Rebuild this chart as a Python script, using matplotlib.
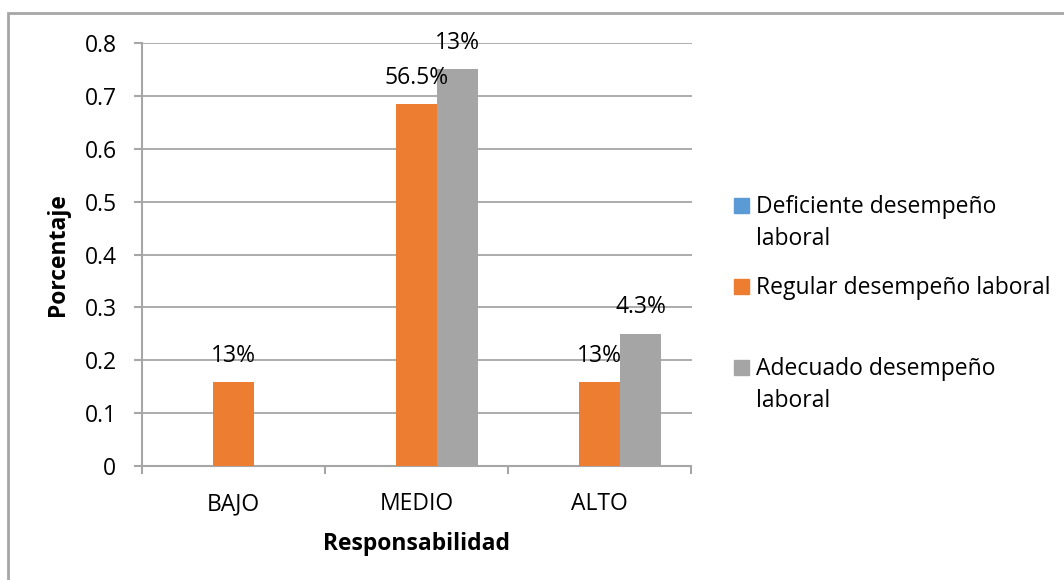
import matplotlib.pyplot as plt
import numpy as np
from matplotlib.patches import Rectangle

# Responsabilidad vs desempeño laboral
categories = ["BAJO", "MEDIO", "ALTO"]
series_names = ["Deficiente desempeño\nlaboral", "Regular desempeño laboral",
                "Adecuado desempeño\nlaboral"]
deficiente = [0.0, 0.0, 0.0]
regular = [0.158, 0.684, 0.158]
adecuado = [0.0, 0.75, 0.25]
# text shown above each bar (None = no label)
regular_labels = ["13%", "56.5%", "13%"]
adecuado_labels = [None, "13%", "4.3%"]

colors = ["#5B9BD5", "#ED7D31", "#A5A5A5"]
grid_gray = "#A6A6A6"
fs = 16.5

plt.rcParams["font.family"] = ["Open Sans", "DejaVu Sans"]

fig = plt.figure(figsize=(10.64, 5.8), dpi=100)
W, H = 1064, 580
ax = fig.add_axes([141.5 / W, 1 - 466 / H, 550 / W, (466 - 43) / H])

# outer chart border
fig.patches.append(Rectangle((8 / W, -0.05), 1.2, 1 - 13 / H + 0.05,
                             transform=fig.transFigure, fill=False,
                             edgecolor="#A6A6A6", linewidth=2))

x = np.arange(len(categories))
bw = 1 / 4.5  # three bars, gap width 150%
bars = []
for i, (vals, c) in enumerate(zip([deficiente, regular, adecuado], colors)):
    b = ax.bar(x + (i - 1) * bw, vals, bw, color=c, zorder=3)
    bars.append(b)

for rects, labels in [(bars[1], regular_labels), (bars[2], adecuado_labels)]:
    for r, lab in zip(rects, labels):
        if lab is None:
            continue
        ax.annotate(lab, (r.get_x() + r.get_width() / 2, r.get_height()),
                    xytext=(0, 19), textcoords="offset points",
                    ha="center", va="center", fontsize=fs, color="#000000",
                    zorder=4)

ax.set_xlim(-0.5, 2.5)
ax.set_ylim(0, 0.8)
ax.set_yticks(np.arange(0, 0.81, 0.1))
ax.set_yticklabels(["0"] + [f"{v:.1f}" for v in np.arange(0.1, 0.81, 0.1)])
ax.set_xticks(x)
ax.set_xticklabels(categories)
ax.set_xticks([-0.5, 0.5, 1.5, 2.5], minor=True)
ax.tick_params(axis="x", which="major", length=0, pad=19, labelsize=fs)
ax.tick_params(axis="x", which="minor", length=6, width=1.5, color=grid_gray)
ax.tick_params(axis="y", length=6, width=1.5, color=grid_gray, pad=12, labelsize=fs)

ax.grid(axis="y", color=grid_gray, linewidth=1.3, zorder=0)
for s in ["top", "right"]:
    ax.spines[s].set_visible(False)
for s in ["left", "bottom"]:
    ax.spines[s].set_color(grid_gray)
    ax.spines[s].set_linewidth(1.5)

ax.set_ylabel("Porcentaje", fontsize=fs, fontweight="bold", labelpad=10)
ax.set_xlabel("Responsabilidad", fontsize=fs, fontweight="bold", labelpad=11)

# legend: square marker lined up with the first line of each entry
legend_rows = [205, 286, 367]
line_h = 32
for name, c, yc in zip(series_names, colors, legend_rows):
    fig.patches.append(Rectangle((734 / W, 1 - (yc + 7.5) / H), 15 / W, 15 / H,
                                 transform=fig.transFigure, color=c))
    for k, line in enumerate(name.split("\n")):
        fig.text(756 / W, 1 - (yc + 8 + k * line_h) / H, line, fontsize=fs,
                 ha="left", va="baseline")

fig.savefig("out.png", dpi=100)
